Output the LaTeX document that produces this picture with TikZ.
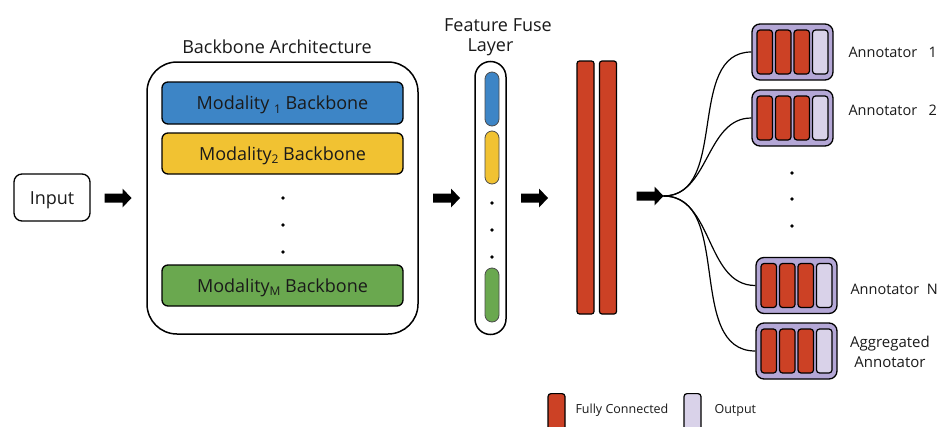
\documentclass[tikz,border=0pt]{standalone}
\usepackage{fontspec}
\setmainfont{Open Sans}
\definecolor{mblue}{HTML}{3D85C6}
\definecolor{myellow}{HTML}{F1C232}
\definecolor{mgreen}{HTML}{6AA84F}
\definecolor{fcred}{HTML}{CC4125}
\definecolor{outlav}{HTML}{D9D2E9}
\definecolor{framepurple}{HTML}{B4A7D6}
\definecolor{txt}{HTML}{1A1A1A}
\newcommand{\Sub}[1]{\raisebox{-0.4ex}{\fontsize{12}{12}\selectfont #1}}
\tikzset{
  big/.style={font=\fontsize{18}{22}\selectfont, text=txt},
  small/.style={font=\fontsize{14.5}{18}\selectfont, text=txt},
  tiny/.style={font=\fontsize{12.5}{15}\selectfont, text=txt},
  box/.style={draw, line width=1.3pt, inner sep=0pt},
  modbox/.style={box, rounded corners=6pt, minimum width=241pt, minimum height=41pt, big, text depth=0pt, text height=13pt},
  fusepill/.style={draw=black!70, line width=0.8pt, rounded corners=7pt, minimum width=14pt, inner sep=0pt},
  fcbar/.style={draw, line width=1.2pt, fill=fcred, rounded corners=2.5pt, minimum width=17pt, minimum height=253pt, inner sep=0pt},
  annframe/.style={draw, line width=1.3pt, fill=framepurple, rounded corners=8pt, minimum width=81pt, minimum height=56pt, inner sep=0pt},
  abar/.style={draw, line width=1.2pt, rounded corners=3pt, minimum width=15.5pt, minimum height=44pt, inner sep=0pt},
  dotn/.style={circle, fill=black, minimum size=3.8pt, inner sep=0pt},
  blockarr/.pic={
    \fill[black] (-13.5,-4.5) -- (4.5,-4.5) -- (4.5,-9.5) -- (13.5,0) -- (4.5,9.5) -- (4.5,4.5) -- (-13.5,4.5) -- cycle;
    \coordinate (-tip) at (13.5,0);
  },
  conn/.style={line width=1.2pt},
}
\newcommand{\AnnBox}[3]{%
  \node[annframe] (#1) at (#2,#3) {};
  \node[abar, fill=fcred] (#1-1) at ([xshift=-27.75pt]#1.center) {};
  \node[abar, fill=fcred] (#1-2) at ([xshift=-9.25pt]#1.center) {};
  \node[abar, fill=fcred] (#1-3) at ([xshift=9.25pt]#1.center) {};
  \node[abar, fill=outlav] (#1-4) at ([xshift=27.75pt]#1.center) {};
}
\begin{document}
\begin{tikzpicture}[x=1pt,y=-1pt]
\clip (0,0) rectangle (948,426);
\fill[white] (0,0) rectangle (948,426);

% input
\node[box, rounded corners=8pt, minimum width=76pt, minimum height=47pt, big, text depth=0pt, text height=13pt] (input) at (52,197.5) {Input};
\pic (a1) at (118,198) {blockarr};

% backbone
\node[box, line width=1.5pt, rounded corners=30pt, minimum width=271pt, minimum height=272pt] (bb) at (282.5,198) {};
\node[big] (bbt) at (277,47) {Backbone Architecture};
\node[modbox, fill=mblue, minimum height=42pt] (m1) at (282.5,103) {Modality \Sub{1} Backbone};
\node[modbox, fill=myellow] (m2) at (282.5,153.5) {Modality\Sub{2} Backbone};
\node[dotn] (bd1) at (283,198) {};
\node[dotn] (bd2) at (283,225) {};
\node[dotn] (bd3) at (283,252) {};
\node[modbox, fill=mgreen] (mm) at (282.5,285.5) {Modality\Sub{M} Backbone};

\pic (a2) at (446.5,198) {blockarr};

% feature fuse
\node[big] (fft1) at (498,25) {Feature Fuse};
\node[big] (fft2) at (490.5,47) {Layer};
\node[box, line width=1.5pt, rounded corners=15.5pt, minimum width=31pt, minimum height=273pt] (fuse) at (490.5,198) {};
\node[fusepill, fill=mblue, minimum height=54pt] (f1) at (492,99) {};
\node[fusepill, fill=myellow, minimum height=53pt] (f2) at (492,157.5) {};
\node[dotn] (fd1) at (492,203) {};
\node[dotn] (fd2) at (492,230) {};
\node[dotn] (fd3) at (492,257) {};
\node[fusepill, fill=mgreen, minimum height=54pt] (fm) at (492,295) {};

\pic (a3) at (534.5,198) {blockarr};

% fully connected
\node[fcbar] (fc1) at (585.5,187.5) {};
\node[fcbar] (fc2) at (608,187.5) {};

\pic (a4) at (650,196) {blockarr};
\coordinate (br) at (a4-tip);

% annotators
\AnnBox{an1}{792.5}{52}
\AnnBox{an2}{792.5}{118}
\AnnBox{ann}{796.5}{285.5}
\AnnBox{agg}{796.5}{351}
\node[dotn] (ad1) at (792,173) {};
\node[dotn] (ad2) at (792,199) {};
\node[dotn] (ad3) at (792,226) {};

\draw[conn] (br) to[out=0,in=180] (an1.west);
\draw[conn] (br) to[out=0,in=180] (an2.west);
\draw[conn] (br) to[out=0,in=180] (ann.west);
\draw[conn] (br) to[out=0,in=180] (agg.west);

\node[small, anchor=west] (l1) at (845,52) {Annotator\ \ \ 1};
\node[small, anchor=west] (l2) at (845,110) {Annotator\ \ \ 2};
\node[small, anchor=west] (ln) at (847,289) {Annotator\ \ N};
\node[font=\fontsize{15}{20}\selectfont, text=txt, align=center] (lagg) at (890,352) {Aggregated\\ Annotator};

% legend
\node[abar, fill=fcred, minimum width=17pt, minimum height=44pt, anchor=north] (lgfc) at (556.5,393) {};
\node[tiny, anchor=west] (lgfct) at (572,410) {Fully Connected};
\node[abar, fill=outlav, minimum width=17pt, minimum height=44pt, anchor=north] (lgout) at (692.5,393) {};
\node[tiny, anchor=west] (lgoutt) at (711,410) {Output};
\end{tikzpicture}
\end{document}
